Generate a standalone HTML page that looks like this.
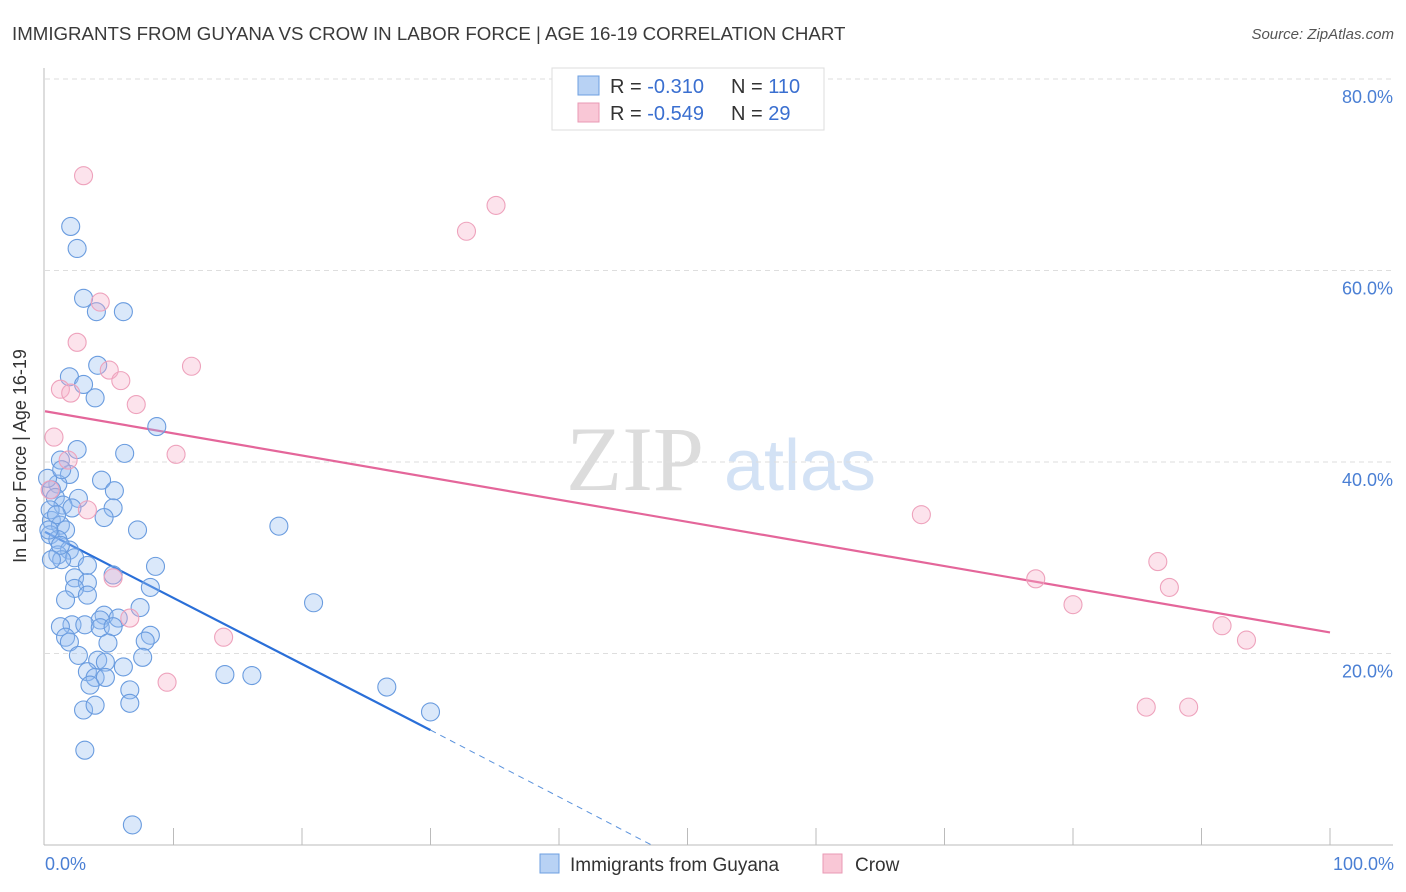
<!DOCTYPE html>
<html><head><meta charset="utf-8">
<style>
body{margin:0;background:#fff;width:1406px;height:892px;overflow:hidden;font-family:"Liberation Sans",sans-serif;}
svg{position:absolute;left:0;top:0;}
</style></head>
<body>
<svg id="chart" width="1406" height="892" xmlns="http://www.w3.org/2000/svg">
<text x="12" y="40" font-size="18.7" fill="#3a3a3a">IMMIGRANTS FROM GUYANA VS CROW IN LABOR FORCE | AGE 16-19 CORRELATION CHART</text>
<text x="1394" y="39" font-size="15" fill="#555" font-style="italic" text-anchor="end">Source: ZipAtlas.com</text>
<g>
<text x="635" y="490" font-family="Liberation Serif,serif" font-size="92" fill="#dcdcdc" text-anchor="middle">ZIP</text>
<text x="800" y="490" font-size="72" fill="#d3e2f5" text-anchor="middle">atlas</text>
</g>
<g id="grid"></g>
<g id="axes"></g>
<g id="lines"></g>
<g id="pts"></g>
<text x="26" y="456" font-size="18" fill="#333" text-anchor="middle" transform="rotate(-90 26 456)">In Labor Force | Age 16-19</text>
<text x="45" y="870" font-size="18" fill="#4a7fd4">0.0%</text>
<text x="1394" y="870" font-size="18" fill="#4a7fd4" text-anchor="end">100.0%</text>
<g>
<rect x="552" y="68" width="272" height="62" fill="#fff" stroke="#ddd"/>
<rect x="578" y="76" width="21" height="19" fill="#b8d2f4" stroke="#6d9fe0"/>
<rect x="578" y="103" width="21" height="19" fill="#f9c7d6" stroke="#e99ab4"/>
<text x="610" y="93" font-size="20" fill="#333">R = <tspan fill="#3a6fd0">-0.310</tspan></text>
<text x="731" y="93" font-size="20" fill="#333">N = <tspan fill="#3a6fd0">110</tspan></text>
<text x="610" y="120" font-size="20" fill="#333">R = <tspan fill="#3a6fd0">-0.549</tspan></text>
<text x="731" y="120" font-size="20" fill="#333">N = <tspan fill="#3a6fd0"> 29</tspan></text>
</g>
<g>
<rect x="540" y="854" width="19" height="19" fill="#b8d2f4" stroke="#6d9fe0"/>
<text x="570" y="871" font-size="19" fill="#333">Immigrants from Guyana</text>
<rect x="823" y="854" width="19" height="19" fill="#f9c7d6" stroke="#e99ab4"/>
<text x="855" y="871" font-size="19" fill="#333">Crow</text>
</g>
</svg>
<script>
const yTicks=[20,40,60,80];
const yTickLabels=["20.0%","40.0%","60.0%","80.0%"];
const xTicks=[10,20,30,40,50,60,70,80,90,100];
const blueX=[2.0,2.5,3.0,4.0,6.1,4.1,1.9,3.0,3.9,8.7,2.5,6.2,1.2,1.9,4.4,5.4,2.6,1.0,0.5,0.8,1.4,2.1,5.3,4.6,7.2,18.2,0.5,1.2,1.6,0.4,1.0,1.9,1.0,2.3,1.3,3.3,8.6,2.3,3.3,5.3,8.2,2.3,3.3,1.6,7.4,4.6,5.7,4.3,20.9,2.1,1.2,3.1,4.3,5.3,8.2,1.6,1.9,4.9,7.8,4.1,2.6,4.7,6.1,7.6,3.3,3.9,4.7,14.0,16.1,3.5,6.6,26.6,3.0,3.9,6.6,30.0,3.1,6.8,0.2,0.4,0.9,1.3,0.3,1.2,0.5];
const blueY=[64.6,62.3,57.1,55.7,55.7,50.1,48.9,48.1,46.7,43.7,41.3,40.9,40.2,38.7,38.1,37.0,36.2,37.7,37.1,36.3,35.5,35.2,35.2,34.2,32.9,33.3,33.9,33.4,32.9,32.4,31.9,30.8,30.3,30.0,29.8,29.2,29.1,27.9,27.4,28.2,26.9,26.8,26.1,25.6,24.8,24.0,23.7,23.5,25.3,23.0,22.8,23.0,22.7,22.8,21.9,21.7,21.2,21.1,21.3,19.3,19.8,19.1,18.6,19.6,18.1,17.5,17.5,17.8,17.7,16.7,16.2,16.5,14.1,14.6,14.8,13.9,9.9,2.1,38.3,35.0,34.5,39.2,32.9,31.3,29.8];
const pinkX=[3.0,35.1,32.8,4.3,2.5,11.4,5.0,5.9,1.2,2.0,7.1,0.7,10.2,1.8,3.3,5.3,6.6,13.9,9.5,68.2,77.1,80.0,86.6,87.5,91.6,93.5,85.7,89.0,0.4];
const pinkY=[69.9,66.8,64.1,56.7,52.5,50.0,49.6,48.5,47.6,47.2,46.0,42.6,40.8,40.2,35.0,27.9,23.7,21.7,17.0,34.5,27.8,25.1,29.6,26.9,22.9,21.4,14.4,14.4,37.1];
const blueTrend=[0,32.7,30,12.0,47.2,0];
const pinkTrend=[0,45.3,100,22.2];

const NS="http://www.w3.org/2000/svg";
const X0=45,X1=1330,Y0=845,PPY=9.575;
const sx=v=>X0+(X1-X0)*v/100;
const sy=v=>Y0-v*PPY;
function mk(tag,attrs,parent){const e=document.createElementNS(NS,tag);for(const k in attrs)e.setAttribute(k,attrs[k]);document.getElementById(parent).appendChild(e);return e;}
yTicks.forEach((t,i)=>{
  const l=mk('line',{x1:X0,x2:1393,y1:sy(t),y2:sy(t),stroke:'#dedede','stroke-dasharray':'5,4'},'grid');
  
  
  const tx=mk('text',{x:1393,y:sy(t)+24,'font-size':18,fill:'#4a7fd4','text-anchor':'end'},'grid');
  tx.textContent=yTickLabels[i];
  
  
});
let a=mk('line',{x1:44,x2:44,y1:68,y2:Y0,stroke:'#bbb'},'axes');


a=mk('line',{x1:44,x2:1393,y1:Y0,y2:Y0,stroke:'#bbb'},'axes');


xTicks.forEach(t=>{
  const l=mk('line',{x1:sx(t),x2:sx(t),y1:828,y2:Y0,stroke:'#bbb'},'axes');
  
  
});
blueX.forEach((v,i)=>{
  const c=mk('circle',{cx:sx(v),cy:sy(blueY[i]),r:9,fill:'rgba(150,190,240,0.35)',stroke:'#6a9cdf','stroke-width':1.1},'pts');
  
  
});
pinkX.forEach((v,i)=>{
  const c=mk('circle',{cx:sx(v),cy:sy(pinkY[i]),r:9,fill:'rgba(246,175,200,0.35)',stroke:'#eea2bc','stroke-width':1.1},'pts');
  
  
});
let t=mk('line',{x1:sx(blueTrend[0]),y1:sy(blueTrend[1]),x2:sx(blueTrend[2]),y2:sy(blueTrend[3]),stroke:'#2a6fd8','stroke-width':2.2},'lines');


t=mk('line',{x1:sx(blueTrend[2]),y1:sy(blueTrend[3]),x2:sx(blueTrend[4]),y2:sy(blueTrend[5]),stroke:'#5a92dc','stroke-width':1,'stroke-dasharray':'6,5'},'lines');


t=mk('line',{x1:sx(pinkTrend[0]),y1:sy(pinkTrend[1]),x2:sx(pinkTrend[2]),y2:sy(pinkTrend[3]),stroke:'#e4669a','stroke-width':2.2},'lines');


</script>
</body></html>
